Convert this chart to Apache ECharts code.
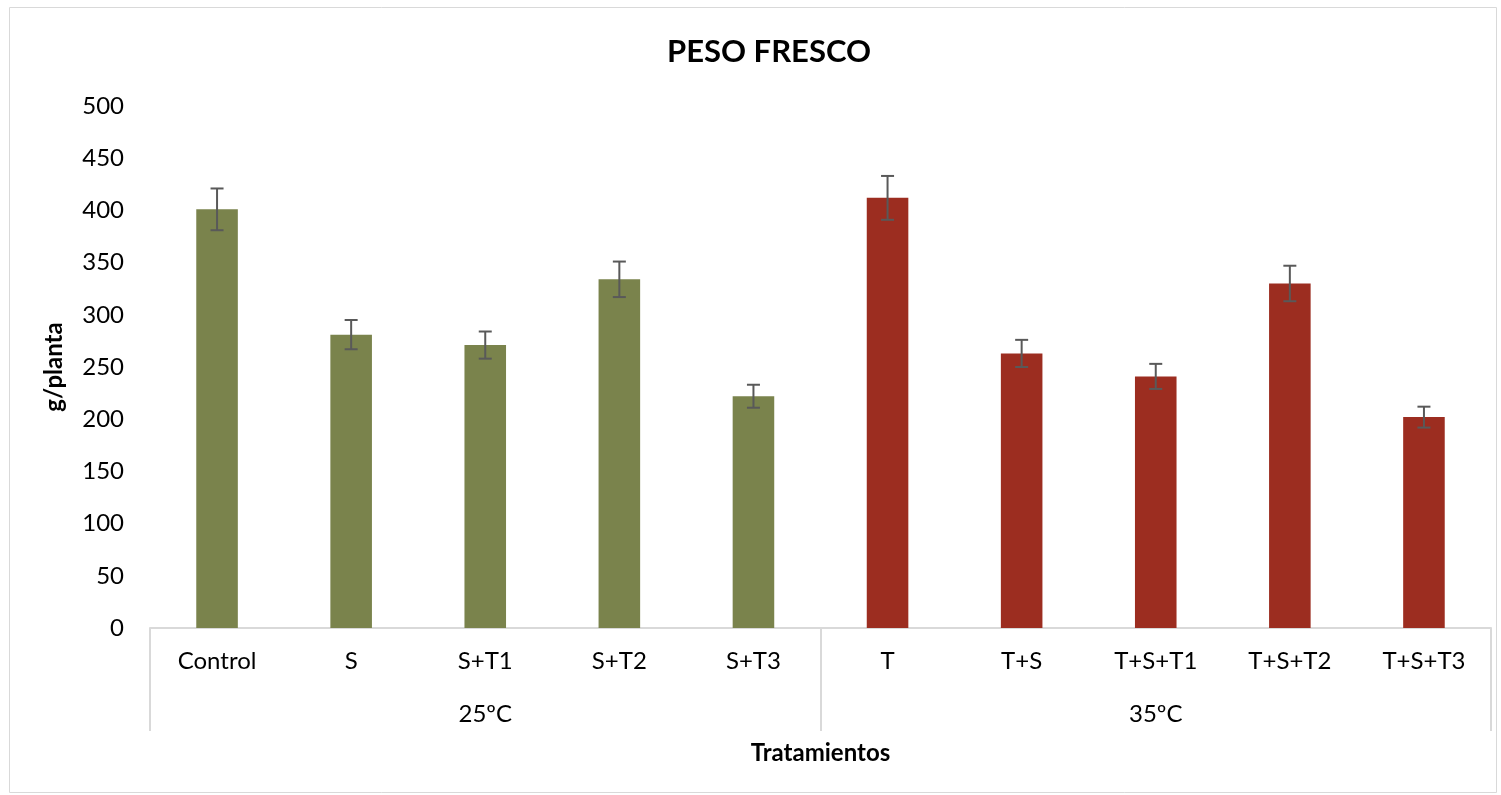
<!DOCTYPE html>
<html>
<head>
<meta charset="utf-8">
<script src="https://cdn.jsdelivr.net/npm/echarts@6/dist/echarts.min.js"></script>
<style>
  html, body { margin: 0; padding: 0; background: #fff; }
  #chart { width: 1501px; height: 795px; }
</style>
</head>
<body>
<div id="chart"></div>
<script>
const categories = ['Control', 'S', 'S+T1', 'S+T2', 'S+T3', 'T', 'T+S', 'T+S+T1', 'T+S+T2', 'T+S+T3']
const groups = ['25ºC', '35ºC']
const values = [401, 281, 271, 334, 222, 412, 263, 241, 330, 202]
const errors = [20, 14, 13, 17, 11, 21, 13, 12, 17, 10]
const groupColors = ['#7A834C', '#9C2D20']

const font = 'Lato, "Open Sans", sans-serif'

let chart = echarts.init(document.getElementById('chart'))

let barData = values.map((v, i) => {
    return {value: v, itemStyle: {color: groupColors[i < 5 ? 0 : 1]}}
})
let errData = values.map((v, i) => [i, v - errors[i], v + errors[i]])

chart.setOption({
    animation: false,
    graphic: [{
        type: 'rect',
        shape: {x: 9.5, y: 7.5, width: 1487, height: 785},
        style: {fill: 'none', stroke: '#d9d9d9', lineWidth: 1}
    }],
    title: {
        text: 'PESO FRESCO',
        left: 662,
        top: 31,
        textStyle: {fontFamily: font, fontWeight: 'bold', fontSize: 31, color: '#000'}
    },
    grid: {left: 150, right: 10, top: 106, bottom: 167},
    xAxis: [
        {
            type: 'category',
            data: categories,
            axisLine: {lineStyle: {color: '#d9d9d9', width: 2}},
            axisTick: {show: false},
            axisLabel: {color: '#000', fontFamily: font, fontSize: 24, margin: 21},
            name: 'Tratamientos',
            nameLocation: 'middle',
            nameGap: 113,
            nameTextStyle: {color: '#000', fontFamily: font, fontWeight: 'bold', fontSize: 24}
        },
        {
            type: 'category',
            data: groups,
            position: 'bottom',
            axisLine: {show: false},
            axisTick: {show: true, length: 103, lineStyle: {color: '#d9d9d9', width: 2}},
            axisLabel: {color: '#000', fontFamily: font, fontSize: 24, margin: 74}
        }
    ],
    yAxis: {
        type: 'value',
        min: 0,
        max: 500,
        interval: 50,
        axisLine: {show: false},
        axisTick: {show: false},
        splitLine: {show: false},
        axisLabel: {color: '#000', fontFamily: font, fontSize: 24, margin: 26},
        name: 'g/planta',
        nameLocation: 'middle',
        nameGap: 84,
        nameTextStyle: {color: '#000', fontFamily: font, fontWeight: 'bold', fontSize: 24}
    },
    series: [
        {
            type: 'bar',
            data: barData,
            barWidth: '31%'
        },
        {
            type: 'custom',
            data: errData,
            z: 10,
            renderItem: function (params, api) {
                let x = api.coord([api.value(0), api.value(1)])[0]
                let lo = api.coord([api.value(0), api.value(1)])[1]
                let hi = api.coord([api.value(0), api.value(2)])[1]
                let half = 6.5
                let style = {stroke: '#595959', lineWidth: 2}
                return {
                    type: 'group',
                    children: [
                        {type: 'line', shape: {x1: x, y1: lo, x2: x, y2: hi}, style: style},
                        {type: 'line', shape: {x1: x - half, y1: lo, x2: x + half, y2: lo}, style: style},
                        {type: 'line', shape: {x1: x - half, y1: hi, x2: x + half, y2: hi}, style: style}
                    ]
                }
            }
        }
    ]
})
</script>
</body>
</html>
